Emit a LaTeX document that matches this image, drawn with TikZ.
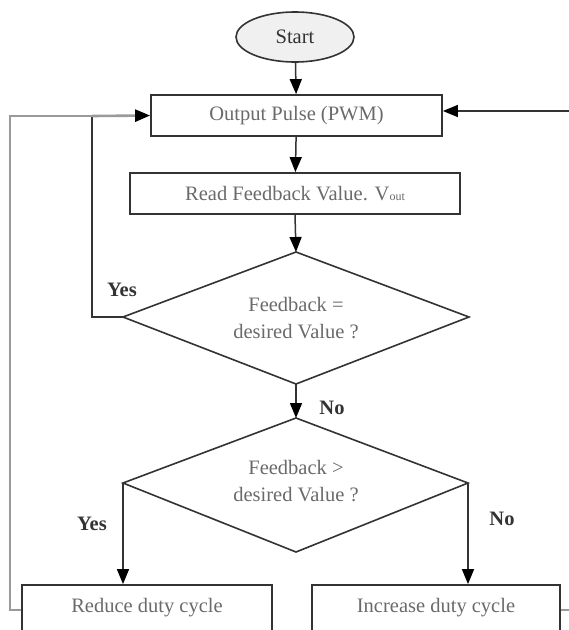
\documentclass[tikz,border=0pt]{standalone}
\usepackage{fontspec}
\setmainfont{Liberation Serif}
\usetikzlibrary{shapes.geometric,arrows.meta}
\definecolor{txt}{HTML}{6A6A6A}
\definecolor{edge}{HTML}{333333}
\definecolor{loopc}{HTML}{9A9A9A}
\begin{document}
\begin{tikzpicture}[x=1pt,y=-1pt,
  box/.style={draw=edge,line width=1.8pt,inner sep=0pt,minimum height=41pt,text=txt,font=\fontsize{20.5}{24}\selectfont},
  diatext/.style={inner sep=0pt,text=txt,align=center,font=\fontsize{20.5}{27}\selectfont},
  diaedge/.style={draw=edge,line width=1.6pt,line join=miter},
  arr/.style={draw=edge,line width=1.5pt,-{Triangle[length=15pt,width=12pt,color=black]}},
  ln/.style={draw=edge,line width=1.5pt},
  loopline/.style={draw=loopc,line width=2.6pt},
  lbl/.style={text=edge,font=\fontsize{20.5}{24}\selectfont\bfseries}
]
\useasboundingbox (0,0) rectangle (569,630);
\node[ellipse,draw=edge,line width=1.6pt,fill=gray!12,minimum width=118pt,minimum height=50pt,inner sep=0pt,text=edge,font=\fontsize{20.5}{24}\selectfont] (start) at (295,37) {Start};
\node[box,minimum width=291pt] (out) at (296.5,115.5) {Output Pulse (PWM)};
\node[box,minimum width=330pt] (read) at (295,193.5) {Read Feedback Value. V{\fontsize{12}{12}\selectfont out}};

% decision 1
\coordinate (d1t) at (296,252);
\coordinate (d1l) at (123,317);
\coordinate (d1r) at (469,317);
\coordinate (d1b) at (296,384);
\draw[diaedge] (d1t) -- (d1r) -- (d1b) -- (d1l) -- cycle;
\node[diatext] (d1) at (296,318) {Feedback =\\desired Value ?};

% decision 2
\coordinate (d2t) at (296,418);
\coordinate (d2l) at (123,483);
\coordinate (d2r) at (468,483);
\coordinate (d2b) at (296,552);
\draw[diaedge] (d2t) -- (d2r) -- (d2b) -- (d2l) -- cycle;
\node[diatext] (d2) at (296,481) {Feedback >\\desired Value ?};

\node[box,minimum width=250pt,minimum height=46pt] (red) at (147,608) {Reduce duty cycle};
\node[box,minimum width=248pt,minimum height=46pt] (inc) at (436,608) {Increase duty cycle};

\draw[arr] (start) -- (out);
\draw[arr] (out) -- (read);
\draw[arr] (read.south) -- (d1t);
\draw[arr] (d1b) -- (d2t);
\node[lbl] (no1) at (332,408) {No};

% Yes loop from first decision
\coordinate (yj) at (92,116);
\draw[ln] (d1l) -| (yj);
\node[lbl] (yes1) at (122,290) {Yes};

% outer left loop
\coordinate (lb) at (10,610);
\coordinate (lt) at (10,116);
\draw[loopline] (red.west |- lb) -- (lb) -- (lt) -- (yj);
\draw[loopline,-{Triangle[length=15pt,width=12pt,color=black]}] (yj) -- (out.west);

% decision 2 branches
\draw[arr] (d2l) -- (d2l |- red.north);
\node[lbl] (yes2) at (92,524) {Yes};
\draw[arr] (d2r) -- (d2r |- inc.north);
\node[lbl] (no2) at (502,519) {No};

% right loop
\coordinate (rb) at (571,610);
\coordinate (rt) at (571,111);
\draw[loopline] (inc.east |- rb) -- (rb) -- (rt);
\draw[arr] (rt) -- (out.east |- rt);
\end{tikzpicture}
\end{document}
